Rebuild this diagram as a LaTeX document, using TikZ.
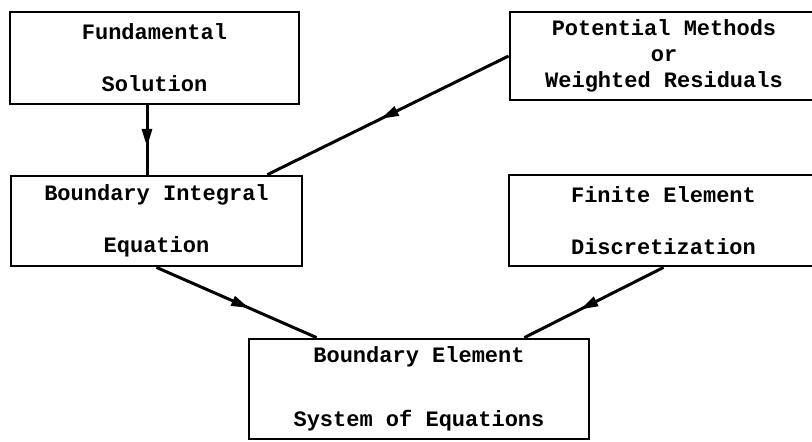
\documentclass[tikz,border=0pt]{standalone}
\usepackage{fontspec}
\setmonofont{Liberation Mono}
\usetikzlibrary{positioning,arrows.meta,decorations.markings}
\tikzset{
  blockbox/.style={draw, line width=1.4pt, align=center, inner sep=0pt,
    font=\ttfamily\bfseries\fontsize{11}{13}\selectfont},
  midarrow/.style={line width=1.5pt, postaction={decorate},
    decoration={markings, mark=at position #1 with {\arrow{Triangle[length=9pt,width=5pt]}}}},
  midarrow/.default=0.58
}
\begin{document}
\begin{tikzpicture}[x=0.5pt, y=-0.5pt]
  \useasboundingbox (0,0) rectangle (812,441);
  \clip (0,0) rectangle (812,441);
  % boxes
  \node[blockbox, minimum width=144.5pt, minimum height=46pt] (fund) at (154.5,58) {Fundamental\\[13pt]Solution};
  \node[blockbox, minimum width=154pt, minimum height=44pt] (pot) at (664,56) {Potential Methods\\or\\Weighted Residuals};
  \node[blockbox, minimum width=145.5pt, minimum height=45pt] (bie) at (156.5,221) {Boundary Integral\\[13pt]Equation};
  \node[blockbox, minimum width=154.5pt, minimum height=45.5pt] (fe) at (663.5,220.5) {Finite Element\\[13pt]Discretization};
  \node[blockbox, minimum width=170pt, minimum height=50pt] (be) at (419,389) {Boundary Element\\[19pt]System of Equations};
  % connectors
  \draw[midarrow=0.6] ([xshift=-3.75pt]fund.south) -- ([xshift=-3.75pt]fund.south |- bie.north);
  \draw[midarrow=0.53] (pot.west) -- ([xshift=-18pt]bie.north east);
  \draw[midarrow] (bie.south) -- ([xshift=34.5pt]be.north west);
  \draw[midarrow=0.6] (fe.south) -- ([xshift=-33pt]be.north east);
\end{tikzpicture}
\end{document}
